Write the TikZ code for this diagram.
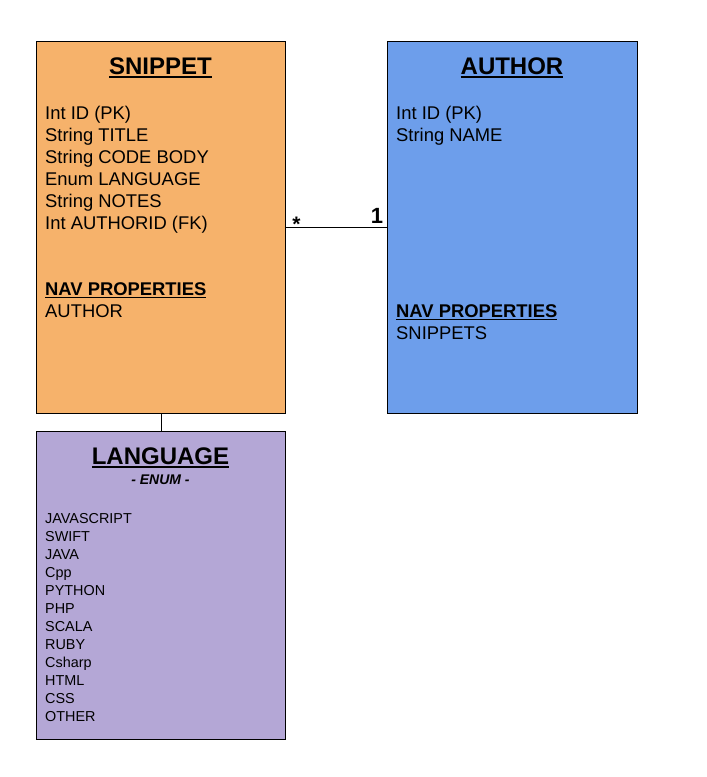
\documentclass[tikz,border=0pt]{standalone}
\usepackage{fontspec}
\setmainfont{Liberation Sans}
\definecolor{snipfill}{HTML}{F6B26B}
\definecolor{authfill}{HTML}{6D9EEB}
\definecolor{langfill}{HTML}{B4A7D6}
\newcommand{\thickul}[3]{\setbox0\hbox{#1}\rlap{\rule[-#2]{\wd0}{#3}}\box0}
\begin{document}
\begin{tikzpicture}[x=1pt,y=-1pt,
  entity/.style={draw=black,line width=0.9pt,anchor=north west,inner sep=0pt},
  titletext/.style={font=\fontsize{24}{28}\selectfont\bfseries,anchor=base,inner sep=0pt},
  bodytext/.style={font=\fontsize{18.4}{22}\selectfont,anchor=base west,inner sep=0pt},
  navtext/.style={font=\fontsize{18.4}{22}\selectfont\bfseries,anchor=base west,inner sep=0pt},
  listtext/.style={font=\fontsize{14.4}{18}\selectfont,anchor=base west,inner sep=0pt},
  conn/.style={draw=black,line width=0.9pt}]
\useasboundingbox (0,0) rectangle (707,777);
\fill[white] (0,0) rectangle (707,777);
% entities
\node[entity,fill=snipfill,minimum width=249pt,minimum height=372pt] (snippet) at (36,41) {};
\node[entity,fill=authfill,minimum width=250pt,minimum height=372pt] (author) at (387,41) {};
\node[entity,fill=langfill,minimum width=249pt,minimum height=308pt] (language) at (36,431) {};
% connectors
\draw[conn] (snippet.east) -- (author.west);
\draw[conn] (snippet.south) -- (language.north);
\node[font=\fontsize{21}{24}\selectfont\bfseries,inner sep=0pt] (many) at (296.5,224) {*};
\node[font=\fontsize{22}{26}\selectfont\bfseries,inner sep=0pt] (one) at (377,216) {1};
% titles
\node[titletext] (snipt) at (160.5,74.5) {\thickul{SNIPPET}{3pt}{1.8pt}};
\node[titletext] (autht) at (512,74.5) {\thickul{AUTHOR}{3pt}{1.8pt}};
\node[titletext] (langt) at (160.5,464.5) {\thickul{LANGUAGE}{3pt}{1.8pt}};
\node[font=\fontsize{14}{16}\selectfont\bfseries\itshape,anchor=base,inner sep=0pt] (enum) at (160.5,484.2) {- ENUM -};
% snippet fields
\foreach \t [count=\i] in {Int ID (PK),String TITLE,String CODE BODY,Enum LANGUAGE,String NOTES,Int AUTHORID (FK)}
  \node[bodytext] (sf\i) at (45,{119.5+22*(\i-1)}) {\t};
\node[navtext] (snav) at (45,295.5) {\thickul{NAV PROPERTIES}{2.5pt}{1.5pt}};
\node[bodytext] (snav1) at (45,317.5) {AUTHOR};
% author fields
\foreach \t [count=\i] in {Int ID (PK),String NAME}
  \node[bodytext] (af\i) at (396,{119.5+22*(\i-1)}) {\t};
\node[navtext] (anav) at (396,317.5) {\thickul{NAV PROPERTIES}{2.5pt}{1.5pt}};
\node[bodytext] (anav1) at (396,339.5) {SNIPPETS};
% language values
\foreach \t [count=\i] in {JAVASCRIPT,SWIFT,JAVA,Cpp,PYTHON,PHP,SCALA,RUBY,Csharp,HTML,CSS,OTHER}
  \node[listtext] (lv\i) at (45,{523.2+18*(\i-1)}) {\t};
\end{tikzpicture}
\end{document}
